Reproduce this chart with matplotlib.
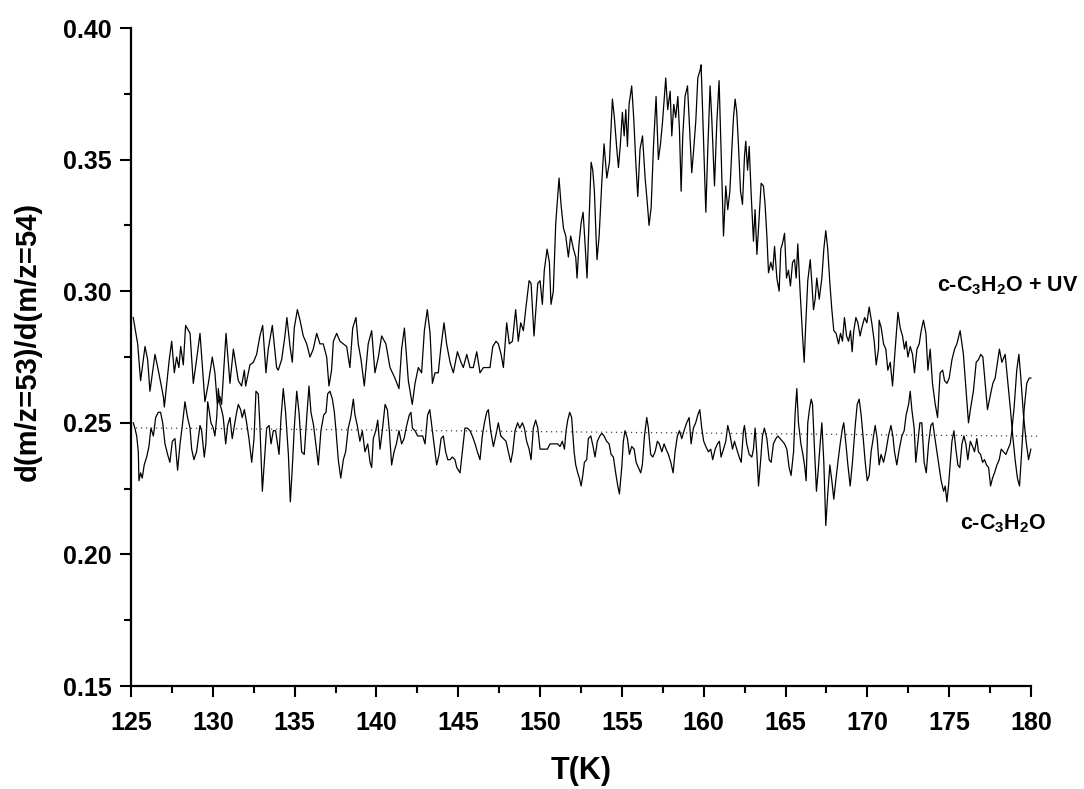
import matplotlib
matplotlib.use("Agg")
import matplotlib.pyplot as plt
from matplotlib.ticker import MultipleLocator, FormatStrFormatter

plt.rcParams['font.family'] = ['Liberation Sans', 'DejaVu Sans']
plt.rcParams['font.weight'] = 'bold'
plt.rcParams['mathtext.fontset'] = 'custom'
plt.rcParams['mathtext.bf'] = 'Liberation Sans:bold'
plt.rcParams['mathtext.rm'] = 'Liberation Sans:bold'
plt.rcParams['mathtext.default'] = 'bf'

# ---- data: c-C3H2O + UV ----
uv_T = [125.14,125.41,125.59,125.86,126.02,126.16,126.47,126.67,126.98,127.04,127.34,127.49,127.65,127.79,127.93,128.04,128.20,128.34,128.61,128.81,129.01,129.22,129.52,129.73,129.97,130.13,130.28,130.44,130.54,130.81,131.05,131.26,131.56,131.76,131.93,132.01,132.27,132.48,132.68,132.88,133.05,133.25,133.39,133.64,133.90,
        134.00,134.21,134.41,134.53,134.72,134.86,134.98,135.17,135.33,135.53,135.74,135.94,136.14,136.35,136.55,136.75,136.96,137.10,137.26,137.37,137.57,137.77,137.98,138.18,138.38,138.55,138.75,138.89,139.06,139.26,139.50,139.71,139.91,140.12,140.32,140.58,140.83,141.13,141.38,141.54,141.71,141.95,142.19,142.36,142.56,142.76,142.93,143.11,
        143.28,143.42,143.58,143.78,143.93,144.13,144.29,144.50,144.70,144.95,145.17,145.31,145.52,145.72,145.92,146.13,146.33,146.54,146.74,146.94,147.11,147.31,147.45,147.62,147.76,147.96,148.12,148.31,148.51,148.67,148.82,148.98,149.14,149.33,149.45,149.63,149.86,150.00,150.14,150.26,150.43,150.57,150.67,150.81,150.96,151.04,151.16,151.28,151.43,151.57,151.73,151.87,152.04,152.18,152.26,152.38,
        152.51,152.63,152.75,152.87,153.00,153.12,153.22,153.32,153.42,153.48,153.61,153.77,153.91,154.08,154.24,154.42,154.54,154.69,154.79,154.91,155.03,155.14,155.24,155.34,155.44,155.60,155.73,155.85,155.97,156.11,156.26,156.42,156.56,156.66,156.79,156.93,157.09,157.23,157.36,157.48,157.60,157.68,157.80,157.95,158.05,158.17,158.29,158.42,158.52,158.62,158.72,158.86,159.01,159.15,159.27,159.39,159.52,159.64,159.78,159.84,159.92,160.05,160.13,160.25,160.39,160.49,160.66,160.80,160.94,161.06,161.21,161.35,161.47,
        161.60,161.72,161.82,161.92,162.02,162.12,162.25,162.37,162.49,162.57,162.68,162.78,162.90,163.04,163.14,163.25,163.35,163.51,163.65,163.75,163.86,163.96,164.10,164.22,164.33,164.47,164.61,164.71,164.81,164.94,165.06,165.18,165.30,165.43,165.55,165.65,165.75,165.89,166.04,166.14,166.24,166.36,166.51,166.61,166.71,166.81,166.91,167.06,167.22,167.34,167.46,167.58,167.71,167.83,167.95,168.09,168.24,168.36,168.48,168.60,168.73,168.85,168.97,169.07,169.17,169.30,169.42,169.56,169.66,169.83,169.97,170.11,170.27,170.42,170.54,170.68,
        170.72,170.85,170.99,171.13,171.25,171.40,171.54,171.70,171.87,172.01,172.15,172.27,172.37,172.48,172.62,172.76,172.88,173.03,173.17,173.29,173.43,173.58,173.70,173.84,173.98,174.15,174.29,174.45,174.60,174.72,174.86,175.00,175.17,175.33,175.47,
        175.67,175.87,176.04,176.18,176.32,176.48,176.65,176.79,176.93,177.06,177.20,177.34,177.50,177.67,177.81,177.95,178.07,178.22,178.42,178.56,178.73,178.87,179.03,179.17,179.30,179.44,179.58,179.74,179.89,179.99]
uv_R = [.290,.280,.266,.279,.274,.262,.276,.270,.260,.256,.274,.281,.269,.275,.271,.279,.272,.287,.284,.265,.274,.284,.258,.265,.275,.269,.257,.260,.257,.284,.265,.278,.266,.264,.270,.264,.272,.273,.276,.283,.287,.269,.278,.287,.271,
        .270,.274,.283,.290,.279,.273,.286,.293,.289,.283,.280,.275,.278,.284,.280,.280,.275,.264,.270,.281,.284,.281,.280,.279,.271,.286,.290,.280,.274,.264,.280,.285,.269,.275,.283,.280,.271,.267,.263,.278,.286,.266,.257,.265,.271,.269,.285,.293,
        .284,.265,.269,.269,.278,.288,.280,.273,.269,.277,.273,.271,.276,.271,.271,.277,.269,.271,.271,.271,.279,.281,.280,.276,.271,.288,.280,.281,.293,.281,.288,.285,.294,.304,.303,.283,.303,.304,.295,.308,.316,.311,.295,.300,.326,.333,.343,.333,.324,.321,.313,.321,.316,.313,.305,.318,
        .326,.330,.318,.305,.328,.349,.346,.338,.321,.312,.321,.341,.356,.343,.349,.373,.366,.354,.347,.356,.368,.359,.369,.355,.371,.378,.365,.349,.336,.354,.359,.343,.333,.325,.332,.355,.374,.350,.356,.364,.374,.381,.369,.376,.359,.371,.366,.374,.361,.338,.359,.374,.378,.360,.345,.354,.365,.381,.384,.386,.371,.345,.330,.354,.378,.366,.340,.364,.380,.354,.321,.340,.331,
        .338,.354,.366,.373,.368,.356,.338,.333,.351,.357,.346,.355,.337,.319,.331,.314,.324,.341,.340,.333,.321,.307,.311,.308,.317,.305,.300,.316,.318,.322,.305,.308,.302,.311,.312,.305,.318,.300,.283,.273,.288,.304,.312,.303,.293,.297,.305,.297,.305,.316,.323,.316,.303,.293,.285,.284,.280,.284,.281,.290,.283,.281,.285,.277,.285,.290,.288,.283,.286,.290,.288,.294,.288,.281,.272,.278,
        .289,.286,.280,.278,.270,.273,.264,.278,.292,.286,.283,.278,.281,.275,.279,.276,.269,.278,.280,.285,.289,.284,.270,.278,.265,.257,.252,.269,.270,.266,.265,.267,.274,.278,.280,
        .285,.276,.262,.250,.256,.262,.273,.274,.276,.275,.265,.255,.260,.265,.267,.273,.278,.273,.276,.267,.256,.246,.236,.229,.226,.240,.255,.265,.267,.267]

# ---- data: c-C3H2O ----
pure_T = [125.14,125.24,125.35,125.45,125.49,125.59,125.69,125.81,125.96,126.10,126.22,126.37,126.51,126.67,126.81,126.94,127.08,127.24,127.38,127.53,127.69,127.85,128.00,128.14,128.30,128.46,128.61,128.71,128.85,129.01,129.22,129.32,129.48,129.58,129.69,129.77,129.89,130.03,130.13,130.24,130.34,130.44,130.54,130.64,130.79,130.91,131.05,131.19,131.32,131.46,131.56,131.70,131.80,131.93,132.07,132.21,132.38,132.52,132.64,132.78,132.88,133.03,133.15,133.29,133.44,133.56,133.70,133.84,133.96,134.05,134.17,134.31,134.45,134.62,134.74,134.86,134.98,135.13,135.27,135.43,135.59,135.74,135.88,136.00,136.16,136.33,136.45,136.61,136.78,136.92,137.02,137.16,137.31,137.43,137.53,137.67,137.82,137.98,138.12,138.28,138.43,138.59,138.69,138.83,138.99,139.14,139.30,139.47,139.61,139.71,139.81,139.96,140.08,140.22,140.36,140.53,140.67,140.79,140.93,141.08,141.22,141.38,141.54,141.69,141.85,142.01,142.11,142.20,142.36,142.52,142.66,142.83,142.97,
          143.13,143.26,143.38,143.48,143.58,143.68,143.83,143.95,144.09,144.23,144.36,144.50,144.64,144.80,144.91,145.01,145.11,145.25,145.41,145.56,145.72,145.86,146.03,146.17,146.33,146.47,146.60,146.74,146.84,146.98,147.15,147.29,147.45,147.60,147.76,147.92,148.06,148.21,148.33,148.47,148.63,148.76,148.92,149.04,149.18,149.33,149.45,149.59,149.73,149.86,150.00,150.14,150.30,150.45,150.61,150.75,150.92,151.08,151.22,151.36,151.49,151.59,151.69,151.81,151.93,152.08,152.18,152.30,152.40,152.51,152.61,152.71,152.85,152.95,153.10,153.24,153.36,153.50,153.65,153.77,153.91,154.07,154.22,154.34,154.48,154.62,154.75,154.85,154.99,155.09,155.19,155.34,155.46,155.60,155.75,155.87,156.01,156.15,156.25,156.38,156.52,156.62,156.76,156.89,157.03,157.17,157.29,157.44,157.58,157.70,157.84,157.99,158.13,158.25,158.39,158.52,158.66,158.80,158.96,159.11,159.23,159.37,159.51,159.64,159.76,159.88,160.00,160.13,160.29,160.43,160.55,160.70,160.84,160.96,161.06,161.21,161.35,161.47,
          161.62,161.76,161.88,162.02,162.17,162.29,162.43,162.49,162.63,162.78,162.94,163.04,163.14,163.25,163.35,163.47,163.59,163.71,163.86,164.00,164.12,164.26,164.41,164.53,164.67,164.81,164.94,165.08,165.22,165.34,165.49,165.59,165.69,165.79,165.94,166.06,166.16,166.26,166.36,166.46,166.57,166.65,166.77,166.89,167.01,167.14,167.22,167.34,167.46,167.58,167.71,167.83,167.95,168.07,168.20,168.34,168.48,168.56,168.69,168.81,168.95,169.09,169.26,169.38,169.50,169.62,169.75,169.87,169.99,170.11,170.23,170.38,170.48,170.60,170.72,170.84,170.99,171.13,171.29,171.44,171.56,171.66,171.80,171.95,172.11,172.25,172.37,172.52,172.62,172.72,172.86,172.96,173.09,173.21,173.33,173.47,173.60,173.74,173.88,174.00,174.11,174.25,174.39,174.51,174.66,174.76,174.86,174.96,175.06,175.17,175.29,175.41,175.53,175.65,175.78,175.90,176.02,176.14,176.29,176.43,176.55,176.69,176.79,176.92,177.04,177.16,177.28,177.41,177.53,177.65,177.77,177.92,178.06,178.18,178.32,178.47,178.59,178.73,178.83,
          178.97,179.13,179.26,179.38,179.54,179.70,179.85,179.99]
pure_R = [.250,.248,.245,.239,.228,.231,.229,.234,.237,.241,.248,.245,.252,.254,.254,.250,.242,.238,.235,.243,.244,.232,.242,.249,.258,.252,.248,.240,.236,.239,.249,.247,.237,.242,.258,.255,.250,.248,.245,.252,.263,.257,.255,.252,.242,.249,.252,.244,.249,.254,.257,.255,.252,.255,.250,.244,.235,.244,.262,.261,.249,.224,.235,.248,.249,.242,.247,.247,.242,.238,.252,.263,.254,.238,.220,.233,.248,.262,.254,.239,.238,.252,.264,.254,.249,.240,.234,.247,.253,.254,.261,.262,.259,.254,.247,.236,.229,.236,.239,.248,.252,.259,.253,.249,.243,.247,.239,.242,.235,.233,.244,.247,.251,.240,.247,.257,.255,.247,.234,.239,.242,.247,.242,.244,.249,.253,.254,.248,.247,.245,.245,.245,.242,
          .253,.255,.249,.244,.239,.234,.238,.244,.245,.239,.236,.236,.237,.236,.233,.232,.231,.239,.248,.248,.247,.245,.242,.239,.236,.245,.250,.254,.255,.247,.241,.245,.250,.245,.244,.243,.239,.235,.239,.247,.250,.248,.250,.248,.243,.240,.236,.248,.251,.248,.240,.240,.240,.240,.242,.242,.242,.242,.241,.243,.240,.247,.251,.254,.252,.239,.234,.231,.229,.226,.230,.235,.236,.244,.245,.241,.237,.243,.245,.246,.245,.243,.242,.238,.237,.231,.226,.223,.233,.243,.247,.244,.238,.241,.240,.235,.233,.231,.234,.245,.252,.248,.238,.237,.239,.243,.242,.239,.242,.240,.238,.235,.231,.239,.245,.247,.244,.247,.250,.252,.242,.248,.250,.253,.255,.248,.243,.241,.239,.240,.236,.240,.242,.243,.237,.240,.243,.249,
          .245,.240,.243,.240,.237,.235,.247,.249,.242,.238,.237,.240,.248,.238,.226,.235,.245,.248,.244,.236,.235,.242,.244,.245,.244,.243,.242,.240,.233,.230,.239,.254,.263,.250,.242,.238,.234,.228,.250,.255,.259,.257,.240,.224,.233,.244,.250,.235,.211,.223,.234,.228,.221,.228,.235,.242,.248,.250,.242,.234,.226,.235,.249,.257,.259,.253,.244,.235,.228,.230,.239,.245,.249,.244,.234,.238,.235,.239,.245,.249,.245,.239,.234,.240,.245,.247,.253,.257,.262,.255,.248,.235,.243,.250,.250,.235,.231,.242,.249,.250,.245,.239,.233,.228,.224,.226,.220,.226,.234,.243,.247,.240,.234,.233,.242,.245,.242,.236,.243,.241,.239,.244,.239,.238,.235,.236,.234,.233,.226,.229,.231,.234,.236,.240,.239,.238,.240,.242,.247,
          .256,.270,.276,.267,.253,.243,.236,.240]

# ---- dotted reference (fit) line ----
fit_T = [125.0, 180.6]
fit_R = [0.2481, 0.2449]

x_ticks = [125, 130, 135, 140, 145, 150, 155, 160, 165, 170, 175, 180]
y_ticks = [0.15, 0.20, 0.25, 0.30, 0.35, 0.40]

fig = plt.figure(figsize=(10.84, 7.89), dpi=100)
ax = fig.add_axes([0.1208, 0.1305, 0.8303, 0.8340])

ax.plot(uv_T, uv_R, color='black', lw=0.9, clip_on=False)
ax.plot(pure_T, pure_R, color='black', lw=0.9, clip_on=False)
ax.plot(fit_T, fit_R, color='#444444', lw=0.9, linestyle=(0, (1, 3)), clip_on=False)

ax.set_xlim(125, 180)
ax.set_ylim(0.15, 0.40)
ax.set_xticks(x_ticks)
ax.set_yticks(y_ticks)
ax.xaxis.set_minor_locator(MultipleLocator(2.5))
ax.yaxis.set_minor_locator(MultipleLocator(0.025))
ax.yaxis.set_major_formatter(FormatStrFormatter('%.2f'))

for s in ['top', 'right']:
    ax.spines[s].set_visible(False)
for s in ['left', 'bottom']:
    ax.spines[s].set_linewidth(1.6)

ax.tick_params(which='major', direction='out', length=8, width=1.5, labelsize=18)
ax.tick_params(which='minor', direction='out', length=5, width=1.5)
ax.tick_params(axis='x', which='major', pad=10)
ax.tick_params(axis='y', which='major', pad=6)
for lab in ax.get_xticklabels() + ax.get_yticklabels():
    lab.set_fontweight('bold')

ax.set_xlabel('T(K)', fontsize=22, fontweight='bold', labelpad=15)
ax.set_ylabel('d(m/z=53)/d(m/z=54)', fontsize=21, fontweight='bold')
ax.yaxis.set_label_coords(-0.099, 0.523)

ax.text(174.27, 0.300, r'c-C$_3$H$_2$O + UV', fontsize=15.5, fontweight='bold',
        ha='left', va='baseline', clip_on=False)
ax.text(175.67, 0.2096, r'c-C$_3$H$_2$O', fontsize=15.5, fontweight='bold',
        ha='left', va='baseline', clip_on=False)

fig.savefig('out.png', dpi=100)
